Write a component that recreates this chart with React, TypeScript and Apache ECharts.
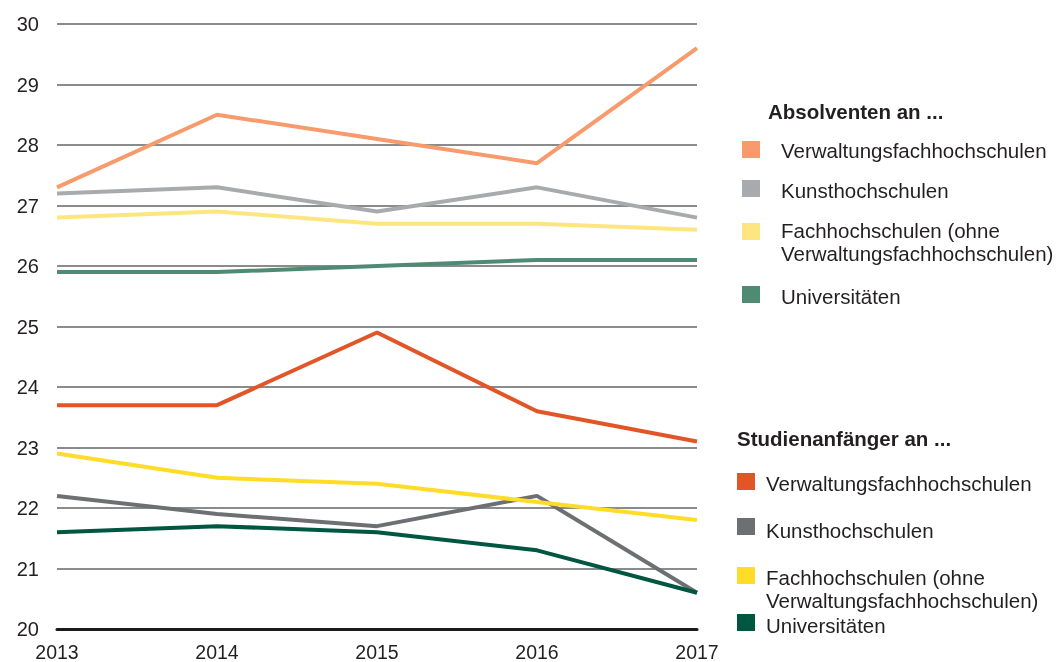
import React, { useEffect, useRef } from "react";
import * as echarts from "echarts";

const years = ["2013", "2014", "2015", "2016", "2017"];

const absVerwaltung = [27.3, 28.5, 28.1, 27.7, 29.6];
const absKunst = [27.2, 27.3, 26.9, 27.3, 26.8];
const absFH = [26.8, 26.9, 26.7, 26.7, 26.6];
const absUni = [25.9, 25.9, 26.0, 26.1, 26.1];

const anfVerwaltung = [23.7, 23.7, 24.9, 23.6, 23.1];
const anfKunst = [22.2, 21.9, 21.7, 22.2, 20.6];
const anfFH = [22.9, 22.5, 22.4, 22.1, 21.8];
const anfUni = [21.6, 21.7, 21.6, 21.3, 20.6];

const seriesDefs = [
  { name: "Absolventen Verwaltungsfachhochschulen", data: absVerwaltung, color: "#F79B6D" },
  { name: "Absolventen Kunsthochschulen", data: absKunst, color: "#A8AAAD" },
  { name: "Absolventen Fachhochschulen", data: absFH, color: "#FDE580" },
  { name: "Absolventen Universitäten", data: absUni, color: "#4F8B73" },
  { name: "Studienanfänger Verwaltungsfachhochschulen", data: anfVerwaltung, color: "#E25526" },
  { name: "Studienanfänger Kunsthochschulen", data: anfKunst, color: "#6D6F72" },
  { name: "Studienanfänger Fachhochschulen", data: anfFH, color: "#FFDC27" },
  { name: "Studienanfänger Universitäten", data: anfUni, color: "#005741" },
];

const FONT = "'Liberation Sans', Arial, sans-serif";

function legendItems(): any[] {
  const els: any[] = [];
  const title = (x: number, y: number, t: string) =>
    els.push({
      type: "text",
      x,
      y,
      style: { text: t, font: `bold 20.5px ${FONT}`, fill: "#231f20", verticalAlign: "middle" },
    });
  const item = (sx: number, sy: number, tx: number, ty: number, color: string, t: string) => {
    els.push({ type: "rect", shape: { x: sx, y: sy, width: 18, height: 17 }, style: { fill: color } });
    els.push({
      type: "text",
      x: tx,
      y: ty,
      style: { text: t, font: `20.5px ${FONT}`, fill: "#231f20", verticalAlign: "middle", lineHeight: 23 },
    });
  };
  title(768, 111, "Absolventen an ...");
  item(742, 141, 781, 150, seriesDefs[0].color, "Verwaltungsfachhochschulen");
  item(742, 180, 781, 190, seriesDefs[1].color, "Kunsthochschulen");
  item(742, 223, 781, 242, seriesDefs[2].color, "Fachhochschulen (ohne\nVerwaltungsfachhochschulen)");
  item(742, 286, 781, 296, seriesDefs[3].color, "Universitäten");

  title(737, 438, "Studienanfänger an ...");
  item(737, 473, 766, 483, seriesDefs[4].color, "Verwaltungsfachhochschulen");
  item(737, 518, 766, 530, seriesDefs[5].color, "Kunsthochschulen");
  item(737, 567, 766, 589, seriesDefs[6].color, "Fachhochschulen (ohne\nVerwaltungsfachhochschulen)");
  item(737, 614, 766, 625, seriesDefs[7].color, "Universitäten");
  return els;
}

export default function App() {
  const ref = useRef<HTMLDivElement>(null);
  useEffect(() => {
    if (!ref.current) return;
    const chart = echarts.init(ref.current, undefined, { renderer: "svg" });
    chart.setOption({
      animation: false,
      grid: { left: 57, right: 359, top: 24, bottom: 32, containLabel: false },
      xAxis: {
        type: "category",
        data: years,
        boundaryGap: false,
        axisLine: { show: true, lineStyle: { color: "#1a1a1a", width: 3 } },
        axisTick: { show: false },
        axisLabel: { color: "#231f20", fontSize: 19.5, fontFamily: FONT, margin: 13 },
        splitLine: { show: false },
      },
      yAxis: {
        type: "value",
        min: 20,
        max: 30,
        interval: 1,
        axisLine: { show: false },
        axisTick: { show: false },
        axisLabel: { color: "#231f20", fontSize: 20, fontFamily: FONT, margin: 18 },
        splitLine: { show: true, lineStyle: { color: "#8a8b8d", width: 2 } },
      },
      series: seriesDefs.map((s) => ({
        name: s.name,
        type: "line",
        data: s.data,
        symbol: "none",
        lineStyle: { color: s.color, width: 4 },
        itemStyle: { color: s.color },
      })),
      graphic: legendItems(),
    });
    return () => chart.dispose();
  }, []);
  return (
    <div
      ref={ref}
      style={{ position: "fixed", left: 0, top: 0, width: 1056, height: 662 }}
    />
  );
}
